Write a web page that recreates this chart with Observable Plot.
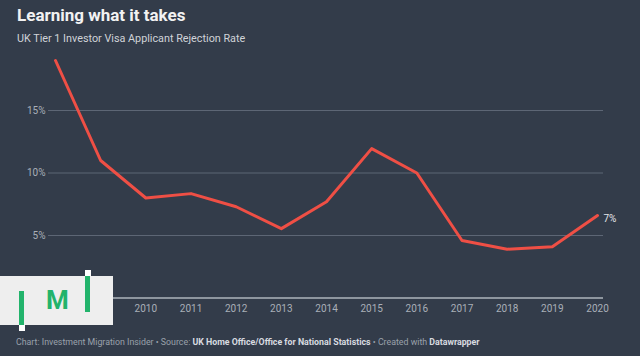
<!DOCTYPE html>
<html>
<head>
<meta charset="utf-8">
<script src="https://cdn.jsdelivr.net/npm/d3@7"></script>
<script src="https://cdn.jsdelivr.net/npm/@observablehq/plot@0.6"></script>
<style>
  html, body { margin: 0; padding: 0; }
  body { width: 640px; height: 356px; background: #333c4a; position: relative; overflow: hidden; font-family: Roboto, "Noto Sans", sans-serif; }
  .title { position: absolute; left: 17px; top: 5px; font-size: 17px; font-weight: 700; color: #f2f2f2; }
  .subtitle { position: absolute; left: 17px; top: 32px; font-size: 10.8px; color: #d0d3d8; }
  #chart { position: absolute; left: 0; top: 45px; }
  .footer { position: absolute; left: 16px; top: 337px; font-size: 8.8px; color: #9aa1ab; white-space: nowrap; }
  .footer b { color: #d8dbe0; font-weight: 700; }
  .logo { position: absolute; left: 0; top: 276px; width: 113px; height: 49px; background: #eeeeee; }
  .bar { position: absolute; width: 5px; background: #22b36b; }
  .sq { position: absolute; width: 6px; height: 6px; background: #ffffff; }
  .m { position: absolute; left: 46px; top: 285px; font-size: 26px; font-weight: 700; color: #22b36b; font-family: Roboto, sans-serif; line-height: 30px; }
</style>
</head>
<body>
<div class="title">Learning what it takes</div>
<div class="subtitle">UK Tier 1 Investor Visa Applicant Rejection Rate</div>
<div id="chart"></div>
<div class="logo"></div>
<div class="bar" style="left:19px;top:291px;height:35px;"></div>
<div class="sq" style="left:18.5px;top:325px;"></div>
<div class="bar" style="left:85px;top:276px;height:36px;"></div>
<div class="sq" style="left:84.5px;top:270px;"></div>
<div class="m">M</div>
<div class="footer">Chart: Investment Migration Insider • Source: <b>UK Home Office/Office for National Statistics</b> • Created with <b>Datawrapper</b></div>
<script>
const years = [2008, 2009, 2010, 2011, 2012, 2013, 2014, 2015, 2016, 2017, 2018, 2019, 2020];
const rates = [19.0, 11.0, 8.0, 8.35, 7.3, 5.55, 7.7, 11.95, 10.0, 4.6, 3.9, 4.1, 6.6];
const xTickLabels = [2010, 2011, 2012, 2013, 2014, 2015, 2016, 2017, 2018, 2019, 2020];
const yTicks = [5, 10, 15];
const yTickLabels = ["5%", "10%", "15%"];
const endLabel = "7%";

const data = years.map((y, i) => ({year: y, rate: rates[i]}));
const last = data[data.length - 1];

const chart = Plot.plot({
  width: 640,
  height: 270,
  marginLeft: 55,
  marginRight: 43,
  marginTop: 2.5,
  marginBottom: 17.5,
  style: {background: "transparent", fontFamily: "Roboto, sans-serif", fontSize: "10px", color: "#a9afb8"},
  x: {domain: [2008, 2020], axis: null},
  y: {domain: [0, 20], axis: null},
  marks: [
    Plot.ruleY(yTicks, {stroke: "#5d6675", strokeWidth: 1, insetLeft: -7, insetRight: -6}),
    Plot.ruleY([0], {stroke: "#aeb4bd", strokeWidth: 1.3, insetLeft: -7, insetRight: -6}),
    Plot.text(yTicks, {x: 2008, y: d => d, text: (d, i) => yTickLabels[i], textAnchor: "end", dx: -10, fill: "#a9afb8", fontSize: 10}),
    Plot.text(xTickLabels, {x: d => d, y: 0, text: d => String(d), dy: 11, fill: "#a9afb8", fontSize: 10, lineAnchor: "middle"}),
    Plot.line(data, {x: "year", y: "rate", stroke: "#ef4f45", strokeWidth: 3, strokeLinejoin: "round", strokeLinecap: "round"}),
    Plot.text([last], {x: "year", y: "rate", text: () => endLabel, textAnchor: "start", dx: 6, dy: 3, fill: "#e6e8eb", fontSize: 10})
  ]
});
document.getElementById("chart").appendChild(chart);
</script>
</body>
</html>
